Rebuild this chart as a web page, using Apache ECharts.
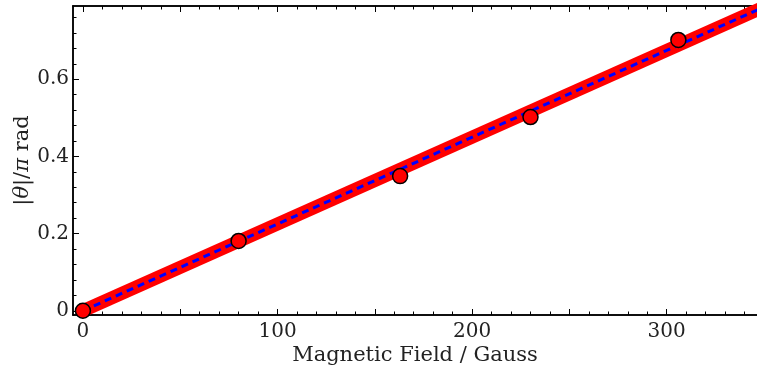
<!DOCTYPE html>
<html>
<head>
<meta charset="utf-8">
<script src="https://cdn.jsdelivr.net/npm/echarts@6/dist/echarts.min.js"></script>
<style>html,body{margin:0;padding:0;background:#fff}#c{width:757px;height:372px}</style>
</head>
<body>
<div id="c"></div>
<script>
// Measured data
const fieldGauss = [0, 80, 163, 230, 306];
const thetaOverPi = [0, 0.181, 0.349, 0.502, 0.702];
// Linear fit line endpoints
const fitX = [0, 350];
const fitY = [0, 0.7875];
// Tick labels
const xTickLabels = [0, 100, 200, 300];
const yTickLabels = [0, 0.2, 0.4, 0.6];
const xMajorTicks = [0, 50, 100, 150, 200, 250, 300];
const xMinorTicks = [10,20,30,40,60,70,80,90,110,120,130,140,160,170,180,190,210,220,230,240,260,270,280,290,310,320,330,340];
const yMajorTicks = [0, 0.2, 0.4, 0.6];
const yMinorTicks = [0.04,0.08,0.12,0.16,0.24,0.28,0.32,0.36,0.44,0.48,0.52,0.56,0.64,0.68,0.72,0.76];

const FONT = 'DejaVu Serif';
const XMIN = -5.1, XMAX = 346.4, YMIN = -0.011, YMAX = 0.79;

function xAx(pos, ticks, len, opts) {
  return Object.assign({
    type: 'value', min: XMIN, max: XMAX, position: pos,
    splitLine: {show: false},
    axisLine: {show: true, onZero: false, lineStyle: {color: '#000', width: 1.5}},
    axisTick: {show: true, inside: true, length: len, customValues: ticks, lineStyle: {color: '#000', width: 1}},
    axisLabel: {show: false}
  }, opts || {});
}
function yAx(ticks, len, opts) {
  return Object.assign({
    type: 'value', min: YMIN, max: YMAX, position: 'left',
    splitLine: {show: false},
    axisLine: {show: true, onZero: false, lineStyle: {color: '#000', width: 1.5}},
    axisTick: {show: true, inside: true, length: len, customValues: ticks, lineStyle: {color: '#000', width: 1}},
    axisLabel: {show: false}
  }, opts || {});
}

const chart = echarts.init(document.getElementById('c'));
chart.setOption({
  animation: false,
  backgroundColor: '#fff',
  grid: {left: 73, top: 6, right: 0, bottom: 57, containLabel: false, outerBoundsMode: 'none'},
  xAxis: [
    xAx('bottom', xMajorTicks, 6, {
      name: 'Magnetic Field / Gauss', nameLocation: 'middle', nameGap: 30, nameMoveOverlap: false,
      nameTextStyle: {fontFamily: FONT, fontSize: 21, color: '#222'},
      axisLabel: {show: true, customValues: xTickLabels, margin: 7, fontFamily: FONT, fontSize: 20, color: '#222'}
    }),
    xAx('bottom', xMinorTicks, 3.5),
    xAx('top', xMajorTicks, 6),
    xAx('top', xMinorTicks, 3.5)
  ],
  yAxis: [
    yAx(yMajorTicks, 6, {
      name: '|{i|θ}|/{i|π} rad', nameLocation: 'middle', nameGap: 40, nameMoveOverlap: false,
      nameTextStyle: {fontFamily: FONT, fontSize: 21, color: '#222',
        rich: {i: {fontFamily: FONT, fontSize: 21, fontStyle: 'italic', color: '#222'}}},
      axisLabel: {show: true, customValues: yTickLabels, margin: 4, fontFamily: FONT, fontSize: 20, color: '#222',
        formatter: v => String(v)}
    }),
    yAx(yMinorTicks, 3.5)
  ],
  series: [
    {
      type: 'line', xAxisIndex: 0, yAxisIndex: 0, z: 2,
      data: fitX.map((x, i) => [x, fitY[i]]),
      symbol: 'none', lineStyle: {color: '#ff0000', width: 13}
    },
    {
      type: 'line', xAxisIndex: 0, yAxisIndex: 0, z: 3,
      data: fitX.map((x, i) => [x, fitY[i]]),
      symbol: 'none', lineStyle: {color: '#0000ff', width: 3, type: [7, 5]}
    },
    {
      type: 'scatter', xAxisIndex: 0, yAxisIndex: 0, z: 4,
      data: fieldGauss.map((x, i) => [x, thetaOverPi[i]]),
      symbol: 'circle', symbolSize: 15,
      itemStyle: {color: '#ff0000', borderColor: '#000', borderWidth: 1.5, opacity: 1}
    }
  ]
});
</script>
</body>
</html>
